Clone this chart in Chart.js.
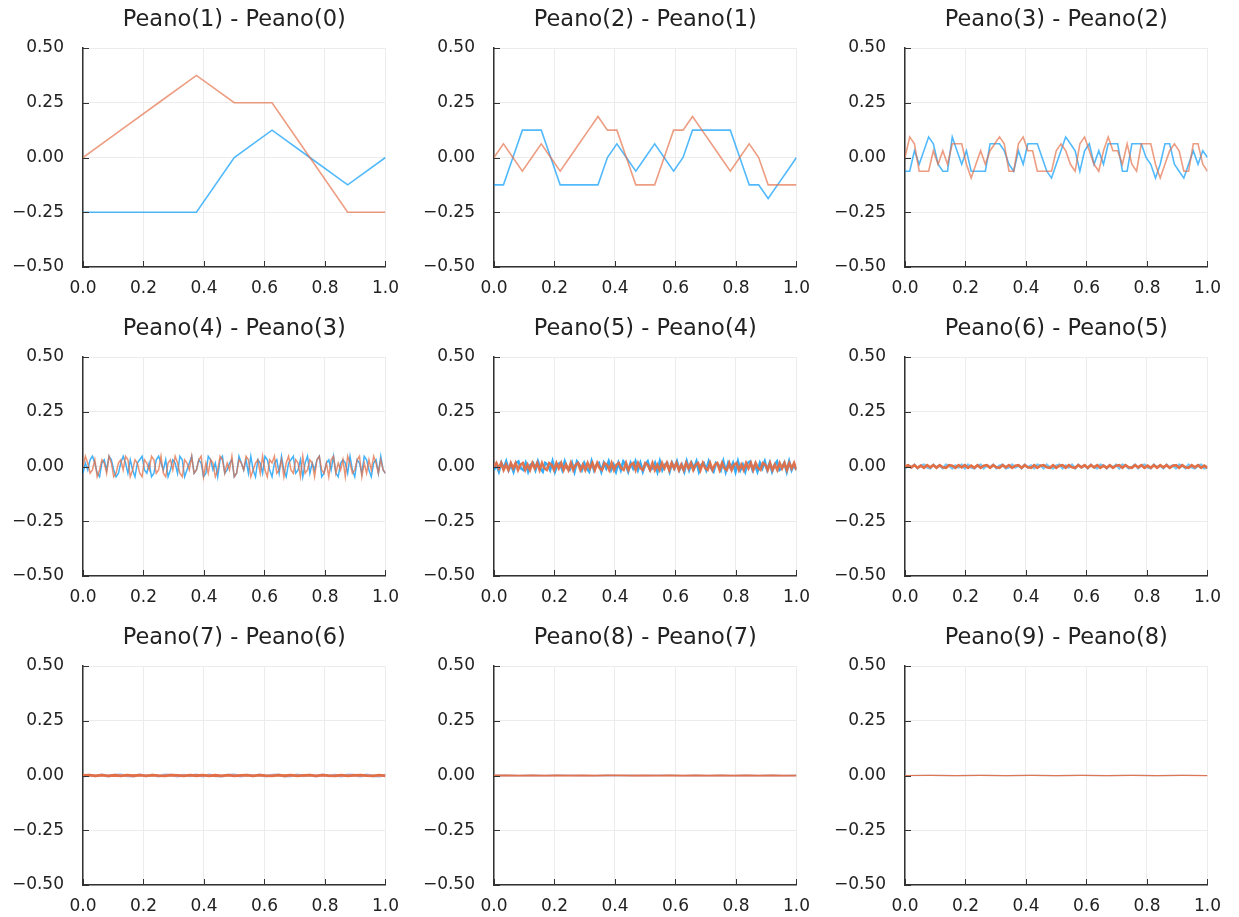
<!DOCTYPE html>
<html>
<head>
<meta charset="utf-8">
<script src="https://cdn.jsdelivr.net/npm/chart.js@4/dist/chart.umd.min.js"></script>
<style>
html,body{margin:0;padding:0;background:#fff;overflow:hidden;width:1239px;height:917px;}
canvas{position:absolute;}
</style>
</head>
<body>
<script>
// ---- titles & ticks ----
const titles = ["Peano(1) - Peano(0)","Peano(2) - Peano(1)","Peano(3) - Peano(2)",
                "Peano(4) - Peano(3)","Peano(5) - Peano(4)","Peano(6) - Peano(5)",
                "Peano(7) - Peano(6)","Peano(8) - Peano(7)","Peano(9) - Peano(8)"];
const xTickValues = [0, 0.2, 0.4, 0.6, 0.8, 1.0];
const xTickLabels = ["0.0","0.2","0.4","0.6","0.8","1.0"];
const yTickValues = [-0.5, -0.25, 0, 0.25, 0.5];
const yTickLabels = ["\u22120.50","\u22120.25","0.00","0.25","0.50"];

// ---- series (blue = first component, red = second component) ----
const p1Blue = [-0.25,-0.25,-0.25,-0.25,0,0.125,0,-0.125,0];
const p1Red  = [0,0.125,0.25,0.375,0.25,0.25,0,-0.25,-0.25];

const p2Blue = [-0.125,-0.125,0,0.125,0.125,0.125,0,-0.125,-0.125,-0.125,-0.125,-0.125,0,0.0625,0,-0.0625,0,0.0625,0,-0.0625,0,0.125,0.125,0.125,0.125,0.125,0,-0.125,-0.125,-0.1875,-0.125,-0.0625,0];
const p2Red  = [0,0.0625,0,-0.0625,0,0.0625,0,-0.0625,0,0.0625,0.125,0.1875,0.125,0.125,0,-0.125,-0.125,-0.125,0,0.125,0.125,0.1875,0.125,0.0625,0,-0.0625,0,0.0625,0,-0.125,-0.125,-0.125,-0.125];

const p3Blue = [-.0625,-.0625,.031,-.031,.031,.094,.0625,-.031,-.0625,-.0625,.094,.031,-.031,.031,-.0625,-.0625,-.0625,-.0625,.0625,.0625,.0625,.031,-.031,-.0625,.031,-.031,.0625,.0625,.0625,0,-.0625,-.094,-.031,.031,.094,.0625,.031,-.0625,.031,.0625,-.031,.031,-.031,.0625,.0625,.0625,-.0625,-.0625,.0625,.0625,.0625,0,-.031,-.094,-.031,.0625,.0625,-.031,-.0625,-.094,-.031,.031,-.031,.031,0];
const p3Red  = [0,.094,.0625,-.0625,-.0625,-.0625,.031,-.031,.031,-.031,.0625,.0625,.0625,-.031,-.094,-.031,.031,-.031,.031,.0625,.094,.0625,-.0625,-.0625,.0625,.094,.031,.031,-.0625,-.0625,-.0625,-.0625,.031,.0625,.031,-.031,-.0625,.0625,.094,.031,-.031,-.0625,.031,.094,.031,.031,-.031,.0625,-.031,-.0625,.0625,.0625,.0625,-.031,-.094,-.031,.031,.0625,.031,-.0625,-.0625,.0625,.0625,-.031,-.0625];

const p4Blue = [-.031,.016,-.016,.031,.047,.016,-.031,-.047,.016,.031,-.016,.047,.031,-.016,-.047,-.031,.016,.047,.016,-.031,.031,-.016,-.047,.016,.031,.047,-.016,-.031,.016,-.047,-.031,.031,.047,.016,-.016,.031,-.047,-.016,.031,.016,-.031,.047,.031,-.047,-.016,.016,.047,-.031,-.016,.031,.016,-.047,-.031,.047,.031,-.016,.016,-.047,.031,.047,-.031,-.016,.016,.031,-.047,-.031,.047,.016,-.016,.031,-.031,.047,-.016,-.047,.031,.016,-.031,.047,.031,-.016,-.047,.016,.031,-.031,.047,-.016,-.047,.016,.031,.047,-.031,-.016,.031,-.047,.016,.047,-.031,.016,-.016,.031,.047,-.047,-.031,.016,.031,-.016,.047,-.031,-.047,.016,.031,.016,-.031,.047,-.016,-.047,.031,.016,-.031,.047,.031,-.016,-.047,.016,.031,-.031,.047,-.016,-.031];
const p4Red  = [0,.047,.016,-.031,-.016,.031,-.047,-.016,.031,.016,-.031,.047,.016,-.047,-.031,.016,.031,-.016,.047,.031,-.047,-.016,.031,.016,-.031,-.047,.031,.016,-.016,.047,.031,-.031,-.016,.047,-.031,-.047,.016,.031,-.016,.047,.016,-.031,-.047,.031,.016,-.016,.047,-.031,-.016,.031,.047,-.047,.016,-.031,.031,.016,-.047,-.016,.047,.031,-.031,.016,-.016,.047,-.047,-.031,.031,.016,-.016,.047,.031,-.047,-.016,.016,.031,-.031,.047,-.016,-.047,.031,.016,.047,-.031,-.016,.031,-.047,.016,.047,-.016,-.031,.031,.016,-.047,.047,-.031,-.016,.031,.016,-.047,.031,.047,-.016,-.031,.016,-.047,.031,.047,-.031,.016,-.016,.031,-.047,.047,.016,-.031,-.016,.031,.047,-.047,.016,-.031,.031,-.016,.047,.016,-.031,.031,-.016,-.031];

const p5Blue = [-.016,.008,-.023,.016,-.008,.023,-.016,.008,-.023,.016,.023,-.008,-.016,.016,-.023,.008,.016,-.016,.023,-.008,-.023,.016,.008,-.016,.023,-.023,.008,.016,-.016,.023,-.008,-.016,.016,-.023,.023,.008,-.016,.016,-.008,-.023,.023,-.016,.008,.016,-.023,.016,-.008,.023,-.016,.008,-.023,.016,-.016,.023,.008,-.023,.016,-.008,.023,-.016,.016,-.023,.008,.023,-.016,-.008,.016,-.023,.023,-.016,.008,.016,-.023,.016,-.008,.023,-.016,.008,-.023,.023,-.016,.016,-.008,.023,-.023,.008,.016,-.016,.023,-.008,-.023,.016,.008,-.016,.023,-.023,.016,-.008,.016,-.023,.023,-.016,.008,-.023,.016,.023,-.016,.008,-.023,.016,-.008,.023,-.016,.016,-.023,.008,.023,-.016,-.008,.016,-.023,.023,-.016,.008,-.016];
const p5Red  = [0,.016,-.008,.016,-.016,.008,-.016,.016,-.008,.016,-.016,.008,.016,-.016,.008,-.016,.016,-.008,.016,-.016,.016,-.008,-.016,.016,.008,-.016,.016,-.008,.016,-.016,.008,-.016,.016,-.016,.008,.016,-.016,.008,-.016,.016,-.008,.016,-.016,.016,-.008,-.016,.016,.008,-.016,.016,-.016,.008,.016,-.008,-.016,.016,-.016,.008,.016,-.016,.016,-.008,-.016,.016,.008,-.016,.016,-.016,.008,-.016,.016,-.008,.016,-.016,.016,-.008,.016,-.016,.008,-.016,.016,-.008,.016,-.016,.008,.016,-.016,.016,-.008,-.016,.016,-.016,.008,.016,-.016,.016,-.008,-.016,.016,-.016,.008,.016,-.016,.008,-.016,.016,-.008,.016,-.016,.016,-.008,-.016,.016,.008,-.016,.016,-.016,.008,-.016,.016,-.008,.016,-.016,.016,-.008,.016,-.016];

const p6Blue = [-.008,.004,-.004,.008,-.008,.004,.008,-.004,-.008,.008,-.004,.004,-.008,.008,.004,-.008,.004,-.004,.008,-.008,.008,-.004,-.008,.004,.008,-.008,.004,-.004,.008,-.008,.004,.008,-.008,-.004,.008,-.004,.004,-.008,.008,-.004,.004,-.008,.008,.004,-.008,.008,-.004,-.008,.004,.008,-.008,.004,-.004,.008,-.008,.008,-.004,.004,-.008,.008,-.004,-.008,.008,.004,-.008,.004,-.004,.008,-.008,.008,.004,-.008,-.004,.008,-.008,.004,.008,-.004,-.008,.008,-.004,.004,-.008,.008,-.004,.004,-.008,.008,.004,-.008,.008,-.004,-.008,.004,.008,-.008,-.004];
const p6Red  = [0,.006,-.004,.006,-.006,.004,-.006,.006,-.004,.006,-.006,.006,-.004,-.006,.006,.004,-.006,.006,-.004,.006,-.006,.004,-.006,.006,-.006,.004,.006,-.006,.006,-.004,-.006,.006,-.004,.006,-.006,.004,.006,-.006,.006,-.004,-.006,.006,-.006,.004,.006,-.004,-.006,.006,-.006,.004,.006,-.006,.006,-.004,-.006,.006,-.004,.006,-.006,.006,-.004,.006,-.006,.004,-.006,.006,-.006,.004,.006,-.006,.006,-.004,-.006,.006,-.004,.006,-.006,.004,-.006,.006,-.006,.006,-.004,.006,-.006,.004,.006,-.006,.006,-.004,-.006,.006,-.004,.006,-.006,.004,-.006];

const p7Blue = [-.003,.002,-.002,.003,-.003,.002,.003,-.002,-.003,.003,-.002,.002,-.003,.003,.002,-.003,.002,-.002,.003,-.003,.003,-.002,-.003,.002,.003,-.003,.002,-.002,.003,-.003,.002,.003,-.003,-.002,.003,-.002,.002,-.003,.003,-.002,.002,-.003,.003,.002,-.003,.003,-.002,-.003,.002];
const p7Red  = [0,.002,-.002,.002,-.002,.001,-.002,.002,-.001,.002,-.002,.002,-.001,-.002,.002,.001,-.002,.002,-.001,.002,-.002,.001,-.002,.002,-.002,.001,.002,-.002,.002,-.001,-.002,.002,-.001,.002,-.002,.001,.002,-.002,.002,-.001,-.002,.002,-.002,.001,.002,-.001,-.002,.002,-.002];

const p8Blue = [-.001,.001,-.0005,.001,-.001,.0005,.001,-.001,-.0005,.001,-.001,.0005,-.001,.001,.0005,-.001,.001,-.0005,.001,-.001,.0005,-.001,.001,-.0005,.001];
const p8Red  = [0,.0008,-.0008,.0005,-.0008,.0008,-.0005,.0008,-.0008,.0005,.0008,-.0008,.0005,-.0008,.0008,-.0005,.0008,-.0008,.0005,-.0008,.0008,-.0005,.0008,-.0008,-.0008];

const p9Blue = [-.0003,.0003,-.0002,.0003,-.0003,.0002,-.0003,.0003,-.0002,.0003,-.0003,.0002,0];
const p9Red  = [0,.0002,-.0002,.0003,-.0002,.0002,-.0003,.0002,-.0002,.0003,-.0002,.0002,-.0002];

const blueSeries = [p1Blue,p2Blue,p3Blue,p4Blue,p5Blue,p6Blue,p7Blue,p8Blue,p9Blue];
const redSeries  = [p1Red,p2Red,p3Red,p4Red,p5Red,p6Red,p7Red,p8Red,p9Red];

// ---- styling / layout (kept apart from data) ----
const FONT = "'DejaVu Sans', sans-serif";
const blueColors = ["rgba(0,154,250,0.68)","rgba(0,154,250,0.68)","rgba(0,154,250,0.68)","rgba(0,154,250,0.75)",
                    "rgba(0,154,250,0.8)","rgba(0,154,250,0.55)","rgba(110,140,220,0.6)","rgba(120,130,200,0.55)","rgba(120,150,200,0.6)"];
const redColors  = ["rgba(227,111,71,0.68)","rgba(227,111,71,0.68)","rgba(227,111,71,0.68)","rgba(227,111,71,0.75)",
                    "rgba(227,111,71,0.95)","rgba(227,111,71,1)","rgba(227,111,71,1)","rgba(227,111,71,0.95)","rgba(227,111,71,0.9)"];
const lineWidths = [1.6, 1.6, 1.6, 1.5, 2.6, 2.6, 2.8, 1.8, 1.2];
const colLeft = [0, 411, 822];
const rowTop = [0, 309, 618];
const CW = 410, CH = 300;

const innerTicks = {
  id: 'innerTicks',
  afterDraw(chart) {
    const {ctx, chartArea: a, scales: {x, y}} = chart;
    ctx.save();
    ctx.strokeStyle = '#333';
    ctx.lineWidth = 1;
    ctx.beginPath();
    for (const v of yTickValues) {
      const py = Math.round(y.getPixelForValue(v)) + 0.5;
      ctx.moveTo(a.left, py); ctx.lineTo(a.left + 6, py);
    }
    for (const v of xTickValues) {
      const px = Math.round(x.getPixelForValue(v)) + 0.5;
      ctx.moveTo(px, a.bottom); ctx.lineTo(px, a.bottom - 6);
    }
    ctx.stroke();
    ctx.restore();
  }
};

const panelTitle = {
  id: 'panelTitle',
  afterDraw(chart, args, opts) {
    const {ctx, chartArea: a} = chart;
    ctx.save();
    ctx.font = 'normal 22.5px ' + FONT;
    ctx.fillStyle = '#222';
    ctx.textAlign = 'center';
    ctx.textBaseline = 'middle';
    ctx.fillText(opts.text, (a.left + a.right) / 2, 20.5);
    ctx.restore();
  }
};

function toPoints(arr) {
  return arr.map((v, i) => ({x: i / (arr.length - 1), y: v}));
}

for (let p = 0; p < 9; p++) {
  const cv = document.createElement('canvas');
  cv.width = CW; cv.height = CH;
  cv.style.left = colLeft[p % 3] + 'px';
  cv.style.top = rowTop[Math.floor(p / 3)] + 'px';
  cv.style.width = CW + 'px'; cv.style.height = CH + 'px';
  document.body.appendChild(cv);

  new Chart(cv, {
    type: 'line',
    data: {
      datasets: [
        {data: toPoints(blueSeries[p]), borderColor: blueColors[p], borderWidth: lineWidths[p], pointRadius: 0, tension: 0, order: 2},
        {data: toPoints(redSeries[p]), borderColor: redColors[p], borderWidth: lineWidths[p], pointRadius: 0, tension: 0, order: 1}
      ]
    },
    options: {
      responsive: false,
      animation: false,
      devicePixelRatio: 1,
      layout: {padding: {left: 0, right: 24, top: 48, bottom: 0}},
      plugins: {
        legend: {display: false},
        tooltip: {enabled: false},
        title: {display: false},
        panelTitle: {text: titles[p]}
      },
      scales: {
        x: {
          type: 'linear', min: 0, max: 1,
          afterBuildTicks: s => { s.ticks = xTickValues.map(v => ({value: v})); },
          afterFit: s => { s.height = 33; },
          ticks: {
            color: '#222', font: {family: FONT, size: 17}, padding: 11, maxRotation: 0,
            callback: v => xTickLabels[xTickValues.indexOf(v)]
          },
          grid: {color: '#ececec', lineWidth: 1, drawTicks: false},
          border: {display: true, color: '#333', width: 1.5}
        },
        y: {
          type: 'linear', min: -0.5, max: 0.5,
          afterBuildTicks: s => { s.ticks = yTickValues.map(v => ({value: v})); },
          afterFit: s => { s.width = 83; },
          ticks: {
            color: '#222', font: {family: FONT, size: 17}, padding: 19,
            callback: v => yTickLabels[yTickValues.indexOf(v)]
          },
          grid: {color: '#ececec', lineWidth: 1, drawTicks: false},
          border: {display: true, color: '#333', width: 1.5}
        }
      }
    },
    plugins: [innerTicks, panelTitle]
  });
}
</script>
</body>
</html>
